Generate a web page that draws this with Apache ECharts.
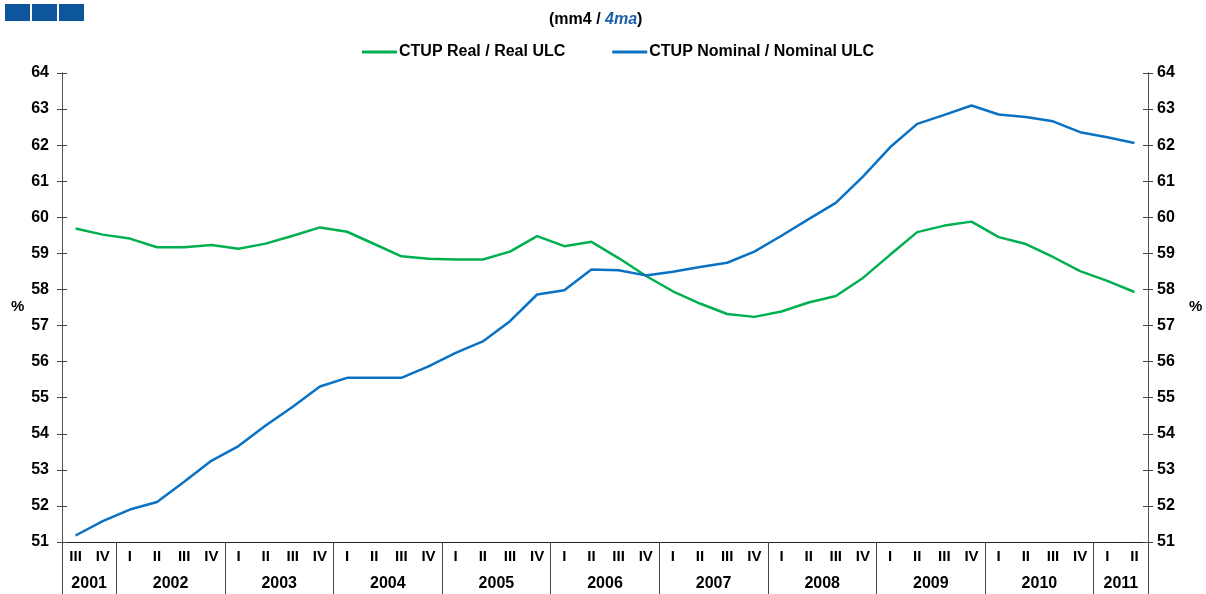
<!DOCTYPE html>
<html>
<head>
<meta charset="utf-8">
<script src="https://cdn.jsdelivr.net/npm/echarts@6/dist/echarts.min.js"></script>
<style>
  html, body { margin: 0; padding: 0; background: #fff; }
  #chart { width: 1206px; height: 594px; }
</style>
</head>
<body>
<div id="chart"></div>
<script>
// quarters, 2001 III .. 2011 II
const quarters = ['III', 'IV',
  'I', 'II', 'III', 'IV', 'I', 'II', 'III', 'IV', 'I', 'II', 'III', 'IV',
  'I', 'II', 'III', 'IV', 'I', 'II', 'III', 'IV', 'I', 'II', 'III', 'IV',
  'I', 'II', 'III', 'IV', 'I', 'II', 'III', 'IV', 'I', 'II', 'III', 'IV',
  'I', 'II'];
const years = ['2001', '2002', '2003', '2004', '2005', '2006', '2007', '2008', '2009', '2010', '2011'];
const quartersPerYear = [2, 4, 4, 4, 4, 4, 4, 4, 4, 4, 2];

const realUlc = [59.69, 59.52, 59.41, 59.17, 59.17, 59.23, 59.13, 59.27, 59.49, 59.72,
  59.60, 59.26, 58.92, 58.85, 58.83, 58.83, 59.05, 59.48, 59.20, 59.32,
  58.87, 58.38, 57.95, 57.61, 57.32, 57.24, 57.39, 57.64, 57.82, 58.32,
  58.96, 59.59, 59.77, 59.88, 59.45, 59.26, 58.90, 58.51, 58.24, 57.93];
const nominalUlc = [51.18, 51.58, 51.90, 52.11, 52.67, 53.25, 53.66, 54.23, 54.75, 55.31,
  55.55, 55.55, 55.55, 55.87, 56.24, 56.56, 57.12, 57.86, 57.98, 58.55,
  58.53, 58.39, 58.49, 58.62, 58.74, 59.05, 59.49, 59.95, 60.40, 61.13,
  61.94, 62.59, 62.84, 63.10, 62.85, 62.78, 62.66, 62.36, 62.22, 62.06];

const FONT = '"Liberation Sans", Arial, sans-serif';
const GREEN = '#00b050';
const BLUE = '#0a72c4';

// year row: half-quarter slots so year names sit in the middle of their span
const yearSlots = [];
const yearEdges = {};
let pos = 0;
yearEdges[0] = true;
years.forEach((y, i) => {
  const n = quartersPerYear[i] * 2;
  for (let k = 0; k < n; k++) yearSlots.push(k === n / 2 ? y : '');
  pos += n;
  yearEdges[pos] = true;
});
yearSlots.push('');

const chart = echarts.init(document.getElementById('chart'));

const yBase = {
  type: 'value', min: 51, max: 64, interval: 1,
  splitLine: { show: false },
  axisLine: { show: true, lineStyle: { color: '#555', width: 1 } }
};

chart.setOption({
  animation: false,
  title: {
    text: '{a|(mm4 / }{b|4ma}{a|)}',
    left: 544, top: 7,
    textStyle: {
      rich: {
        a: { fontFamily: FONT, fontWeight: 'bold', fontSize: 16, color: '#000' },
        b: { fontFamily: FONT, fontWeight: 'bold', fontStyle: 'italic', fontSize: 16, color: '#1d5fa8' }
      }
    }
  },
  legend: {
    left: 357, top: 39, icon: 'rect',
    itemWidth: 35, itemHeight: 3, itemGap: 47,
    textStyle: { fontFamily: FONT, fontWeight: 'bold', fontSize: 16, color: '#000', padding: [0, 0, 0, -3] },
    data: ['CTUP Real / Real ULC', 'CTUP Nominal / Nominal ULC']
  },
  grid: { left: 62, right: 58, top: 73, bottom: 52, outerBoundsMode: 'none' },
  xAxis: [{
    type: 'category', data: quarters, position: 'bottom',
    axisLine: { lineStyle: { color: '#222' } },
    axisTick: { length: 28, lineStyle: { color: '#444' } },
    axisLabel: { interval: 0, margin: 7, fontFamily: FONT, fontWeight: 'bold', fontSize: 15, color: '#000' }
  }, {
    type: 'category', data: yearSlots, position: 'bottom', boundaryGap: false,
    axisLine: { show: false },
    axisTick: { length: 52, interval: (i) => !!yearEdges[i], lineStyle: { color: '#444' } },
    axisLabel: { interval: 0, margin: 34, fontFamily: FONT, fontWeight: 'bold', fontSize: 16, color: '#000' }
  }],
  yAxis: [
    Object.assign({}, yBase, {
      position: 'left',
      axisTick: { show: true, length: 5, lineStyle: { color: '#444' } },
      axisLabel: { margin: 13, fontFamily: FONT, fontWeight: 'bold', fontSize: 16, color: '#000' }
    }),
    Object.assign({}, yBase, {
      position: 'right',
      axisTick: { show: true, length: 5, lineStyle: { color: '#444' } },
      axisLabel: { margin: 9, fontFamily: FONT, fontWeight: 'bold', fontSize: 16, color: '#000' }
    }),
    Object.assign({}, yBase, {
      position: 'left',
      axisTick: { show: true, inside: true, length: 5, lineStyle: { color: '#444' } },
      axisLabel: { show: false }
    }),
    Object.assign({}, yBase, {
      position: 'right',
      axisTick: { show: true, inside: true, length: 5, lineStyle: { color: '#444' } },
      axisLabel: { show: false }
    })
  ],
  graphic: [
    { type: 'rect', left: 5, top: 4, shape: { width: 25, height: 17 }, style: { fill: '#0d569e' } },
    { type: 'rect', left: 32, top: 4, shape: { width: 25, height: 17 }, style: { fill: '#0d569e' } },
    { type: 'rect', left: 59, top: 4, shape: { width: 25, height: 17 }, style: { fill: '#0d569e' } },
    { type: 'text', left: 11, top: 299, style: { text: '%', fontFamily: FONT, fontWeight: 'bold', fontSize: 15, fill: '#000' } },
    { type: 'text', left: 1189, top: 299, style: { text: '%', fontFamily: FONT, fontWeight: 'bold', fontSize: 15, fill: '#000' } }
  ],
  series: [{
    name: 'CTUP Real / Real ULC', type: 'line', data: realUlc,
    symbol: 'none', lineStyle: { color: GREEN, width: 2.5 }, itemStyle: { color: GREEN }
  }, {
    name: 'CTUP Nominal / Nominal ULC', type: 'line', data: nominalUlc,
    symbol: 'none', lineStyle: { color: BLUE, width: 2.5 }, itemStyle: { color: BLUE }
  }]
});
</script>
</body>
</html>
